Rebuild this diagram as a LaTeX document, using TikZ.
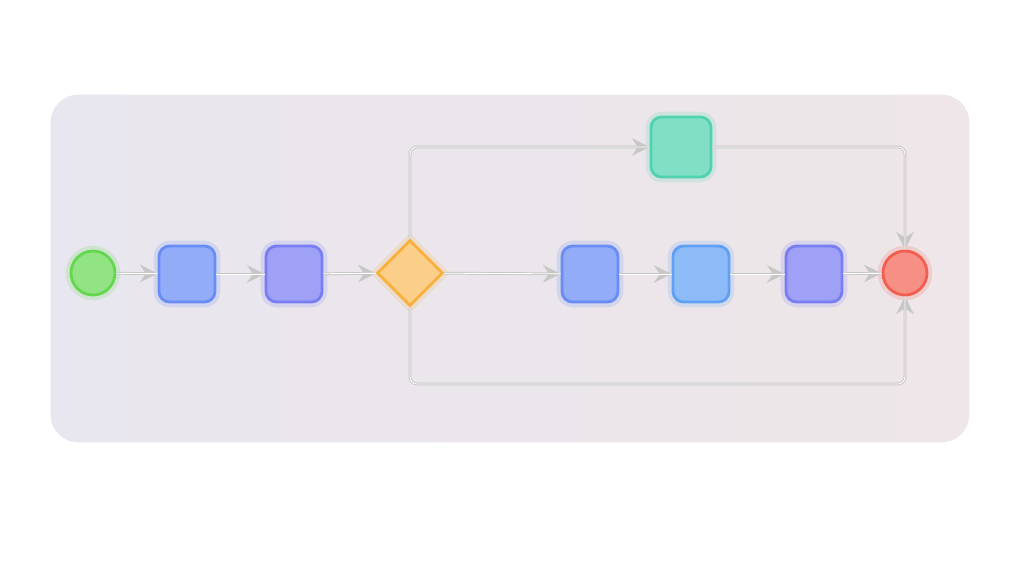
\documentclass[tikz,border=0pt]{standalone}
\usepackage{tikz}
\usetikzlibrary{arrows.meta,shapes.geometric}
\definecolor{cbGreen}{RGB}{100,215,80}
\definecolor{cbBlue}{RGB}{105,140,245}
\definecolor{cbIndigo}{RGB}{120,125,242}
\definecolor{cbSky}{RGB}{95,160,245}
\definecolor{cbTeal}{RGB}{80,210,175}
\definecolor{cbOrange}{RGB}{248,175,60}
\definecolor{cbRed}{RGB}{242,95,80}
\definecolor{cbPanelL}{RGB}{232,230,238}
\definecolor{cbPanelR}{RGB}{238,230,232}
\tikzset{
    >={Stealth[length=5pt,width=5pt]},
    link/.style={draw=black!22,line width=0.8pt,rounded corners=2pt,
        postaction={draw=white,line width=0.25pt,-}},
    glow/.style={preaction={draw=#1,line width=3pt,opacity=0.18}},
    pane/.style={rectangle,rounded corners=3pt,minimum size=0.56cm,inner sep=0pt,
        draw=#1,fill=#1!72!white,line width=0.8pt,glow=#1},
    ring/.style={circle,minimum size=0.44cm,inner sep=0pt,
        draw=#1,fill=#1!70!white,line width=0.8pt,glow=#1},
    gate/.style={diamond,minimum size=0.66cm,inner sep=0pt,
        draw=#1,fill=#1!60!white,line width=0.8pt,glow=#1}
}

\begin{document}
\begin{tikzpicture}
  \useasboundingbox (0,0) rectangle (10.24,-5.62);
  % panel
  \draw[white,line width=1.5pt,left color=cbPanelL,right color=cbPanelR,rounded corners=0.3cm]
    (0.48,-0.92) rectangle (9.72,-4.45);

  \node[ring=cbGreen] (st) at (0.93, -2.73) {};
  \node[pane=cbBlue] (b1) at (1.87, -2.74) {} edge[<-,link] (st);
  \node[pane=cbIndigo] (b2) at (2.94, -2.74) {} edge[<-,link] (b1);
  \node[gate=cbOrange] (gw) at (4.10, -2.73) {} edge[<-,link] (b2);
  \node[pane=cbBlue] (b3) at (5.90, -2.74) {} edge[<-,link] (gw);
  \node[pane=cbSky] (b4) at (7.01, -2.74) {} edge[<-,link] (b3);
  \node[pane=cbIndigo] (b5) at (8.14, -2.74) {} edge[<-,link] (b4);
  \node[ring=cbRed] (en) at (9.05, -2.73) {} edge[<-,link] (b5);
  \node[pane=cbTeal,minimum size=0.6cm] (tp) at (6.81, -1.47) {};

  % branches
  \coordinate (lo) at (9.05, -3.84);
  \draw[->,link] (gw.north) |- (tp.west);
  \draw[->,link] (tp.east) -| (en.north);
  \draw[->,link] (gw.south) |- (lo) -- (en.south);
\end{tikzpicture}
\end{document}
